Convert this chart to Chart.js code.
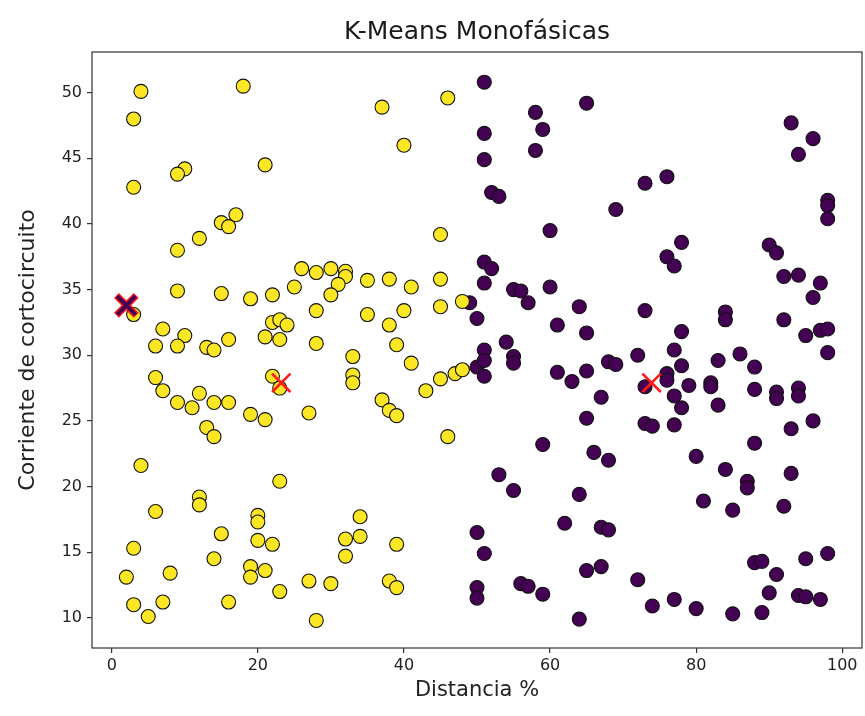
<!DOCTYPE html>
<html>
<head>
<meta charset="utf-8">
<script src="https://cdn.jsdelivr.net/npm/chart.js@4/dist/chart.umd.min.js"></script>
<style>
  html, body { margin: 0; padding: 0; background: #fff; }
  #wrap { width: 865px; height: 716px; }
</style>
</head>
<body>
<div id="wrap"><canvas id="chart-kmeans" width="865" height="716"></canvas></div>
<script>
// K-Means Monofásicas: clusters
const chartTitle = 'K-Means Monofásicas';
const xTitle = 'Distancia %';
const yTitle = 'Corriente de cortocircuito';
const xTicks = [0, 20, 40, 60, 80, 100];
const yTicks = [10, 15, 20, 25, 30, 35, 40, 45, 50];

// cluster 1 (yellow)
const yellowX = [4, 3, 18, 21, 3, 10, 9, 17, 15, 16, 12, 9,
    37, 46, 40, 45,
    3, 9, 15, 19, 22, 7, 10, 6, 9, 13, 14, 16, 22, 23, 24, 21, 23, 6, 7, 12, 9, 11, 14, 16, 19, 21, 13, 14, 22, 23,
    26, 28, 30, 32, 32, 31, 30, 25, 35, 38, 41, 45, 45, 40, 35, 28, 38, 28, 39, 41, 33, 33, 33, 45, 47, 48, 43, 37, 38, 39, 27, 46, 48,
    4, 23, 12, 12, 6, 20, 20, 15, 20, 22, 3, 14, 19, 21, 19, 2, 8, 23, 3, 7, 16, 5,
    34, 34, 32, 32, 39, 27, 30, 38, 39, 28];
const yellowY = [50.1, 48.0, 50.5, 44.5, 42.8, 44.2, 43.8, 40.7, 40.1, 39.8, 38.9, 38.0,
    48.9, 49.6, 46.0, 39.2,
    33.1, 34.9, 34.7, 34.3, 34.6, 32.0, 31.5, 30.7, 30.7, 30.6, 30.4, 31.2, 32.5, 32.7, 32.3, 31.4, 31.2, 28.3, 27.3, 27.1, 26.4, 26.0, 26.4, 26.4, 25.5, 25.1, 24.5, 23.8, 28.4, 27.5,
    36.6, 36.3, 36.6, 36.4, 36.0, 35.4, 34.6, 35.2, 35.7, 35.8, 35.2, 35.8, 33.7, 33.4, 33.1, 33.4, 32.3, 30.9, 30.8, 29.4, 29.9, 28.5, 27.9, 28.2, 28.6, 28.9, 27.3, 26.6, 25.8, 25.4, 25.6, 23.8, 34.1,
    21.6, 20.4, 19.2, 18.6, 18.1, 17.8, 17.3, 16.4, 15.9, 15.6, 15.3, 14.5, 13.9, 13.6, 13.1, 13.1, 13.4, 12.0, 11.0, 11.2, 11.2, 10.1,
    17.7, 16.2, 16.0, 14.7, 15.6, 12.8, 12.6, 12.8, 12.3, 9.8];

// cluster 0 (purple)
const purpleX = [51, 65, 58, 59, 51, 58, 51, 52, 53, 73, 76, 69, 60,
    93, 96, 94, 98, 98, 98, 78, 76, 90, 91,
    51, 52, 51, 55, 56, 57, 60, 64, 73, 61, 65, 49, 50, 50, 54, 51, 51, 51, 55, 55, 61, 63, 65, 68, 69, 72, 73, 67, 65, 73, 74, 59, 66, 77,
    92, 94, 97, 96, 92, 95, 97, 98, 98, 84, 84, 78, 77, 78, 76, 76, 79, 77, 78, 83, 86, 88, 82, 82, 83, 88, 91, 91, 94, 94, 96, 93, 77, 88, 80,
    68, 53, 55, 64, 62, 67, 68, 50, 51, 65, 67, 72, 50, 50, 56, 57, 59, 74, 64,
    84, 93, 87, 87, 81, 85, 92, 88, 89, 91, 95, 98, 90, 94, 95, 97, 89, 85, 80, 77];
const purpleY = [50.8, 49.2, 48.5, 47.2, 46.9, 45.6, 44.9, 42.4, 42.1, 43.1, 43.6, 41.1, 39.5,
    47.7, 46.5, 45.3, 41.8, 41.4, 40.4, 38.6, 37.5, 38.4, 37.8,
    37.1, 36.6, 35.5, 35.0, 34.9, 34.0, 35.2, 33.7, 33.4, 32.3, 31.7, 34.0, 32.8, 29.1, 31.0, 30.4, 29.6, 28.4, 29.9, 29.4, 28.7, 28.0, 28.8, 29.5, 29.3, 30.0, 27.6, 26.8, 25.2, 24.8, 24.6, 23.2, 22.6, 36.8,
    36.0, 36.1, 35.5, 34.4, 32.7, 31.5, 31.9, 32.0, 30.2, 33.3, 32.7, 31.8, 30.4, 29.2, 28.6, 28.1, 27.7, 26.9, 26.0, 29.6, 30.1, 29.1, 27.9, 27.6, 26.2, 27.4, 27.2, 26.7, 27.5, 26.9, 25.0, 24.4, 24.7, 23.3, 22.3,
    22.0, 20.9, 19.7, 19.4, 17.2, 16.9, 16.7, 16.5, 14.9, 13.6, 13.9, 12.9, 12.3, 11.5, 12.6, 12.4, 11.8, 10.9, 9.9,
    21.3, 21.0, 20.4, 19.9, 18.9, 18.2, 18.5, 14.2, 14.3, 13.3, 14.5, 14.9, 11.9, 11.7, 11.6, 11.4, 10.4, 10.3, 10.7, 11.4];

// centroids
const centroidX = [2, 23.2, 73.9];
const centroidY = [33.8, 27.9, 27.9];

const YELLOW = '#fde725';
const PURPLE = '#440154';
const FONT = 'DejaVu Sans, sans-serif';

const toPoints = (xs, ys) => xs.map((x, i) => ({ x, y: ys[i] }));

const frameTitlePlugin = {
    id: 'frameTitle',
    afterDraw(chart) {
        const { ctx: c, chartArea: a } = chart;
        c.save();
        c.strokeStyle = '#333';
        c.lineWidth = 1.2;
        c.strokeRect(a.left, a.top, a.right - a.left, a.bottom - a.top);
        c.fillStyle = '#1a1a1a';
        c.font = '25px ' + FONT;
        c.textAlign = 'center';
        c.textBaseline = 'middle';
        c.fillText(chartTitle, (a.left + a.right) / 2, 32);
        c.restore();
    },
};

const fixTicks = vals => scale => {
    scale.ticks = vals.map(v => ({ value: v }));
};

const ctx = document.getElementById('chart-kmeans').getContext('2d');
new Chart(ctx, {
    type: 'scatter',
    data: {
        datasets: [
            {
                label: 'centroide interior',
                data: toPoints(centroidX.slice(0, 1), centroidY.slice(0, 1)),
                pointStyle: 'crossRot',
                pointRadius: 13,
                borderColor: PURPLE,
                borderWidth: 4,
                order: 0,
            },
            {
                label: 'centroide borde',
                data: toPoints(centroidX.slice(0, 1), centroidY.slice(0, 1)),
                pointStyle: 'crossRot',
                pointRadius: 14,
                borderColor: '#ff1a1a',
                borderWidth: 7,
                order: 1,
            },
            {
                label: 'centroides',
                data: toPoints(centroidX.slice(1), centroidY.slice(1)),
                pointStyle: 'crossRot',
                pointRadius: 13,
                borderColor: '#ff1a1a',
                borderWidth: 2.6,
                order: 1,
            },
            {
                label: 'Cluster 1',
                data: toPoints(yellowX, yellowY),
                backgroundColor: YELLOW,
                borderColor: '#111',
                borderWidth: 1.1,
                pointRadius: 7,
                order: 2,
            },
            {
                label: 'Cluster 0',
                data: toPoints(purpleX, purpleY),
                backgroundColor: PURPLE,
                borderColor: '#111',
                borderWidth: 1.1,
                pointRadius: 7,
                order: 3,
            },
        ],
    },
    plugins: [frameTitlePlugin],
    options: {
        responsive: false,
        animation: false,
        events: [],
        layout: { autoPadding: false, padding: { top: 52, right: 3, bottom: 0, left: 0 } },
        plugins: {
            legend: { display: false },
            tooltip: { enabled: false },
        },
        scales: {
            x: {
                type: 'linear',
                min: -2.7,
                max: 102.7,
                afterBuildTicks: fixTicks(xTicks),
                afterFit: s => { s.height = 68; s.paddingLeft = 0; s.paddingRight = 0; },
                grid: { drawOnChartArea: false, tickLength: 5, tickColor: '#333', lineWidth: 1.2 },
                border: { display: false },
                ticks: { color: '#222', font: { family: FONT, size: 16 }, padding: 3, maxRotation: 0 },
                title: {
                    display: true,
                    text: xTitle,
                    color: '#222',
                    font: { family: FONT, size: 21 },
                    padding: { top: 0, bottom: 13 },
                },
            },
            y: {
                type: 'linear',
                min: 7.7,
                max: 53.1,
                afterBuildTicks: fixTicks(yTicks),
                afterFit: s => { s.width = 92; s.paddingTop = 0; s.paddingBottom = 0; },
                grid: { drawOnChartArea: false, tickLength: 5, tickColor: '#333', lineWidth: 1.2 },
                border: { display: false },
                ticks: { color: '#222', font: { family: FONT, size: 16 }, padding: 5 },
                title: {
                    display: true,
                    text: yTitle,
                    color: '#222',
                    font: { family: FONT, size: 22 },
                    padding: { top: 15, bottom: 0 },
                },
            },
        },
    },
});
</script>
</body>
</html>
